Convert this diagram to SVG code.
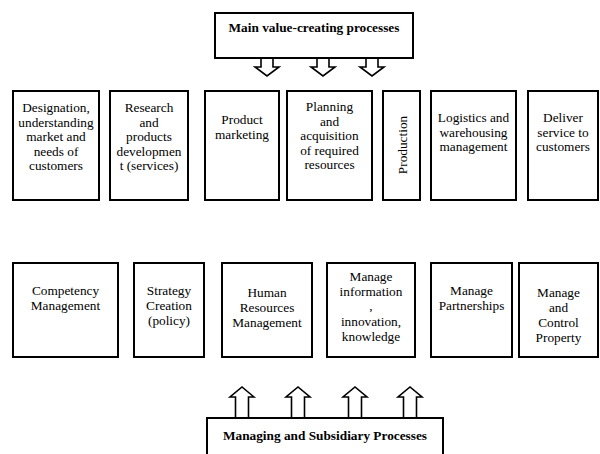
<svg xmlns="http://www.w3.org/2000/svg" width="600" height="454" viewBox="0 0 600 454">
<style>
.box{fill:#fff;stroke:#000;stroke-width:2}
.arr{fill:#fff;stroke:#000;stroke-width:1.6;stroke-linejoin:miter}
text{font-family:"Liberation Serif","Times New Roman",serif;font-size:13.3px;fill:#000;text-anchor:middle}
.b{font-weight:bold}
</style>
<rect width="600" height="454" fill="#fff"/>
<g id="connectors">
<polygon class="arr" points="261,58 273,58 273,67 279,67 267,76 255,67 261,67"/>
<polygon class="arr" points="317,58 329,58 329,67 335,67 323,76 311,67 317,67"/>
<polygon class="arr" points="366,58 378,58 378,67 384,67 372,76 360,67 366,67"/>
<polygon class="arr" points="235.5,418 248.5,418 248.5,397 254,397 242,387 230,397 235.5,397"/>
<polygon class="arr" points="291.5,418 304.5,418 304.5,397 310,397 298,387 286,397 291.5,397"/>
<polygon class="arr" points="348.5,418 361.5,418 361.5,397 367,397 355,387 343,397 348.5,397"/>
<polygon class="arr" points="403.5,418 416.5,418 416.5,397 422,397 410,387 398,397 403.5,397"/>
</g>
<g id="main">
<rect class="box" x="215" y="13" width="198" height="45"/>
<text class="b" x="314" y="32">Main value-creating processes</text>
</g>
<g id="designation">
<rect class="box" x="13" y="91" width="86" height="109"/>
<text x="56" y="112">Designation,</text>
<text x="56" y="126.5">understanding</text>
<text x="56" y="141">market and</text>
<text x="56" y="155.5">needs of</text>
<text x="56" y="170">customers</text>
</g>
<g id="research">
<rect class="box" x="110" y="91" width="78" height="109"/>
<text x="149" y="112">Research</text>
<text x="149" y="126.5">and</text>
<text x="149" y="141">products</text>
<text x="149" y="155.5">developmen</text>
<text x="149" y="170">t (services)</text>
</g>
<g id="marketing">
<rect class="box" x="205" y="91" width="74" height="109"/>
<text x="242" y="124">Product</text>
<text x="242" y="138.5">marketing</text>
</g>
<g id="planning">
<rect class="box" x="287" y="91" width="85" height="109"/>
<text x="329.5" y="111">Planning</text>
<text x="329.5" y="125.5">and</text>
<text x="329.5" y="140">acquisition</text>
<text x="329.5" y="154.5">of required</text>
<text x="329.5" y="169">resources</text>
</g>
<g id="production">
<rect class="box" x="383" y="91" width="37" height="109"/>
<text x="0" y="0" transform="translate(407,145) rotate(-90)">Production</text>
</g>
<g id="logistics">
<rect class="box" x="431" y="91" width="85" height="109"/>
<text x="473.5" y="122">Logistics and</text>
<text x="473.5" y="136.5">warehousing</text>
<text x="473.5" y="151">management</text>
</g>
<g id="deliver">
<rect class="box" x="528" y="91" width="70" height="109"/>
<text x="563" y="122">Deliver</text>
<text x="563" y="136.5">service to</text>
<text x="563" y="151">customers</text>
</g>
<g id="competency">
<rect class="box" x="13" y="263" width="105" height="94"/>
<text x="65.5" y="295">Competency</text>
<text x="65.5" y="310">Management</text>
</g>
<g id="strategy">
<rect class="box" x="134" y="263" width="70" height="94"/>
<text x="169" y="295">Strategy</text>
<text x="169" y="310">Creation</text>
<text x="169" y="325">(policy)</text>
</g>
<g id="hr">
<rect class="box" x="222" y="263" width="90" height="94"/>
<text x="267" y="297">Human</text>
<text x="267" y="312">Resources</text>
<text x="267" y="327">Management</text>
</g>
<g id="information">
<rect class="box" x="327" y="263" width="88" height="94"/>
<text x="371" y="281">Manage</text>
<text x="371" y="295.5">information</text>
<text x="371" y="310">,</text>
<text x="371" y="326">innovation,</text>
<text x="371" y="341">knowledge</text>
</g>
<g id="partnerships">
<rect class="box" x="431" y="263" width="81" height="94"/>
<text x="471.5" y="295">Manage</text>
<text x="471.5" y="310">Partnerships</text>
</g>
<g id="property">
<rect class="box" x="519" y="263" width="79" height="94"/>
<text x="558.5" y="297">Manage</text>
<text x="558.5" y="312">and</text>
<text x="558.5" y="327">Control</text>
<text x="558.5" y="342">Property</text>
</g>
<g id="managing">
<rect class="box" x="207" y="418" width="236" height="40"/>
<text class="b" x="325" y="440">Managing and Subsidiary Processes</text>
</g>
</svg>
